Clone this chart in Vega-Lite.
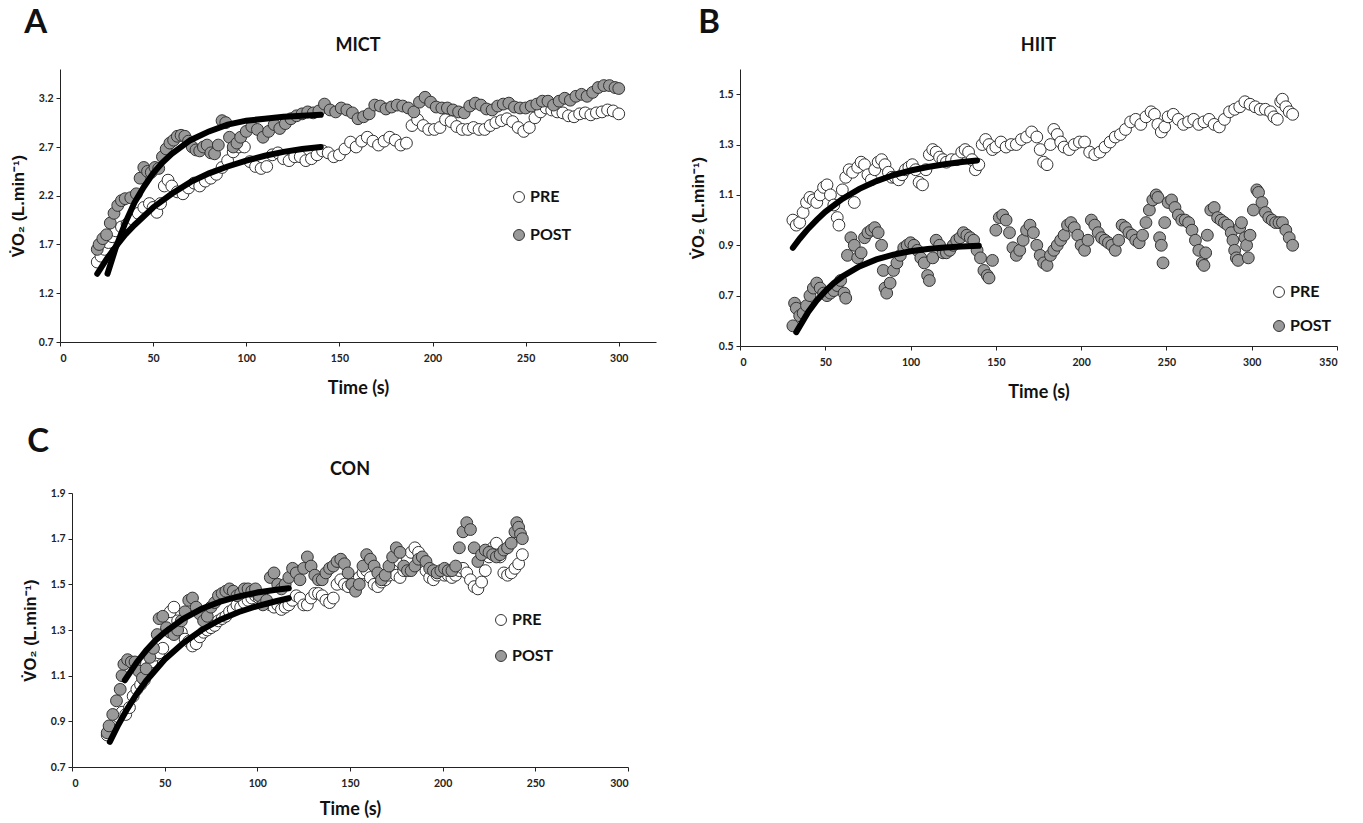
{
  "$schema": "https://vega.github.io/schema/vega-lite/v6.json",
  "background": "white",
  "padding": {"left": 10, "top": 7, "right": 5, "bottom": 5},
  "config": {
    "view": {"stroke": null},
    "font": "Lato",
    "axis": {"grid": false, "domainColor": "#222", "tickColor": "#222", "tickSize": 4, "labelFont": "Lato", "labelFontWeight": "bold", "labelFontSize": 10.5, "labelColor": "#222", "labelPadding": 3, "titleFont": "Lato", "titleFontWeight": "bold", "titleColor": "#111", "titleFontSize": 18},
    "axisY": {"titleFont": "Liberation Sans", "titleFontSize": 16.5, "titlePadding": 12},
    "axisX": {"labelPadding": 7, "titlePadding": 16},
    "legend": {"orient": "none", "labelFont": "Lato", "labelFontWeight": "bold", "labelFontSize": 16, "labelColor": "#111", "symbolType": "circle", "symbolSize": 120, "symbolStrokeColor": "#333", "symbolStrokeWidth": 1, "rowPadding": 17, "labelOffset": 3}
  },
  "datasets": {
    "mict": [
      {"t":20,"v":1.52,"g":"PRE"},{"t":22,"v":1.58,"g":"PRE"},{"t":24,"v":1.65,"g":"PRE"},{"t":26,"v":1.72,"g":"PRE"},{"t":28,"v":1.78,"g":"PRE"},{"t":30,"v":1.84,"g":"PRE"},{"t":33,"v":1.88,"g":"PRE"},{"t":36,"v":1.91,"g":"PRE"},{"t":39,"v":1.96,"g":"PRE"},{"t":42,"v":2.02,"g":"PRE"},{"t":45,"v":2.08,"g":"PRE"},{"t":48,"v":2.12,"g":"PRE"},{"t":50,"v":2.08,"g":"PRE"},{"t":52,"v":2.03,"g":"PRE"},{"t":54,"v":2.12,"g":"PRE"},{"t":56,"v":2.30,"g":"PRE"},{"t":58,"v":2.36,"g":"PRE"},{"t":60,"v":2.30,"g":"PRE"},{"t":63,"v":2.24,"g":"PRE"},{"t":66,"v":2.22,"g":"PRE"},{"t":69,"v":2.28,"g":"PRE"},{"t":72,"v":2.33,"g":"PRE"},{"t":75,"v":2.30,"g":"PRE"},{"t":78,"v":2.35,"g":"PRE"},{"t":81,"v":2.38,"g":"PRE"},{"t":84,"v":2.42,"g":"PRE"},{"t":87,"v":2.49,"g":"PRE"},{"t":90,"v":2.56,"g":"PRE"},{"t":93,"v":2.65,"g":"PRE"},{"t":96,"v":2.70,"g":"PRE"},{"t":99,"v":2.70,"g":"PRE"},{"t":102,"v":2.55,"g":"PRE"},{"t":105,"v":2.50,"g":"PRE"},{"t":108,"v":2.48,"g":"PRE"},{"t":111,"v":2.50,"g":"PRE"},{"t":114,"v":2.62,"g":"PRE"},{"t":117,"v":2.64,"g":"PRE"},{"t":120,"v":2.58,"g":"PRE"},{"t":123,"v":2.56,"g":"PRE"},{"t":126,"v":2.60,"g":"PRE"},{"t":129,"v":2.60,"g":"PRE"},{"t":132,"v":2.56,"g":"PRE"},{"t":135,"v":2.58,"g":"PRE"},{"t":138,"v":2.62,"g":"PRE"},{"t":141,"v":2.66,"g":"PRE"},{"t":144,"v":2.64,"g":"PRE"},{"t":147,"v":2.60,"g":"PRE"},{"t":150,"v":2.62,"g":"PRE"},{"t":153,"v":2.68,"g":"PRE"},{"t":156,"v":2.75,"g":"PRE"},{"t":159,"v":2.70,"g":"PRE"},{"t":162,"v":2.76,"g":"PRE"},{"t":165,"v":2.80,"g":"PRE"},{"t":168,"v":2.76,"g":"PRE"},{"t":171,"v":2.72,"g":"PRE"},{"t":174,"v":2.76,"g":"PRE"},{"t":177,"v":2.80,"g":"PRE"},{"t":180,"v":2.77,"g":"PRE"},{"t":183,"v":2.72,"g":"PRE"},{"t":186,"v":2.74,"g":"PRE"},{"t":189,"v":2.92,"g":"PRE"},{"t":192,"v":2.98,"g":"PRE"},{"t":195,"v":2.92,"g":"PRE"},{"t":198,"v":2.88,"g":"PRE"},{"t":201,"v":2.88,"g":"PRE"},{"t":204,"v":2.90,"g":"PRE"},{"t":207,"v":2.98,"g":"PRE"},{"t":210,"v":2.96,"g":"PRE"},{"t":213,"v":2.91,"g":"PRE"},{"t":216,"v":2.88,"g":"PRE"},{"t":219,"v":2.88,"g":"PRE"},{"t":222,"v":2.90,"g":"PRE"},{"t":225,"v":2.88,"g":"PRE"},{"t":228,"v":2.88,"g":"PRE"},{"t":231,"v":2.92,"g":"PRE"},{"t":234,"v":2.95,"g":"PRE"},{"t":237,"v":2.97,"g":"PRE"},{"t":240,"v":2.99,"g":"PRE"},{"t":243,"v":2.96,"g":"PRE"},{"t":246,"v":2.90,"g":"PRE"},{"t":249,"v":2.86,"g":"PRE"},{"t":252,"v":2.90,"g":"PRE"},{"t":255,"v":3.00,"g":"PRE"},{"t":258,"v":3.06,"g":"PRE"},{"t":261,"v":3.10,"g":"PRE"},{"t":264,"v":3.08,"g":"PRE"},{"t":267,"v":3.06,"g":"PRE"},{"t":270,"v":3.05,"g":"PRE"},{"t":273,"v":3.02,"g":"PRE"},{"t":276,"v":3.01,"g":"PRE"},{"t":279,"v":3.04,"g":"PRE"},{"t":282,"v":3.05,"g":"PRE"},{"t":285,"v":3.03,"g":"PRE"},{"t":288,"v":3.05,"g":"PRE"},{"t":291,"v":3.06,"g":"PRE"},{"t":294,"v":3.08,"g":"PRE"},{"t":297,"v":3.07,"g":"PRE"},{"t":300,"v":3.04,"g":"PRE"},
      {"t":20,"v":1.65,"g":"POST"},{"t":21,"v":1.70,"g":"POST"},{"t":23,"v":1.76,"g":"POST"},{"t":25,"v":1.80,"g":"POST"},{"t":27,"v":1.92,"g":"POST"},{"t":29,"v":2.02,"g":"POST"},{"t":31,"v":2.10,"g":"POST"},{"t":33,"v":2.15,"g":"POST"},{"t":35,"v":2.17,"g":"POST"},{"t":38,"v":2.18,"g":"POST"},{"t":41,"v":2.22,"g":"POST"},{"t":43,"v":2.38,"g":"POST"},{"t":45,"v":2.49,"g":"POST"},{"t":47,"v":2.45,"g":"POST"},{"t":49,"v":2.44,"g":"POST"},{"t":51,"v":2.49,"g":"POST"},{"t":53,"v":2.48,"g":"POST"},{"t":55,"v":2.60,"g":"POST"},{"t":57,"v":2.68,"g":"POST"},{"t":59,"v":2.74,"g":"POST"},{"t":61,"v":2.77,"g":"POST"},{"t":63,"v":2.81,"g":"POST"},{"t":65,"v":2.82,"g":"POST"},{"t":67,"v":2.81,"g":"POST"},{"t":69,"v":2.76,"g":"POST"},{"t":71,"v":2.70,"g":"POST"},{"t":73,"v":2.67,"g":"POST"},{"t":75,"v":2.66,"g":"POST"},{"t":77,"v":2.70,"g":"POST"},{"t":79,"v":2.72,"g":"POST"},{"t":81,"v":2.64,"g":"POST"},{"t":83,"v":2.63,"g":"POST"},{"t":85,"v":2.72,"g":"POST"},{"t":87,"v":2.97,"g":"POST"},{"t":89,"v":2.95,"g":"POST"},{"t":91,"v":2.80,"g":"POST"},{"t":93,"v":2.70,"g":"POST"},{"t":95,"v":2.74,"g":"POST"},{"t":97,"v":2.80,"g":"POST"},{"t":100,"v":2.86,"g":"POST"},{"t":103,"v":2.91,"g":"POST"},{"t":106,"v":2.88,"g":"POST"},{"t":109,"v":2.80,"g":"POST"},{"t":112,"v":2.86,"g":"POST"},{"t":115,"v":2.93,"g":"POST"},{"t":118,"v":2.89,"g":"POST"},{"t":121,"v":2.94,"g":"POST"},{"t":124,"v":2.99,"g":"POST"},{"t":127,"v":3.02,"g":"POST"},{"t":130,"v":3.04,"g":"POST"},{"t":133,"v":3.06,"g":"POST"},{"t":136,"v":3.05,"g":"POST"},{"t":139,"v":3.07,"g":"POST"},{"t":142,"v":3.14,"g":"POST"},{"t":145,"v":3.08,"g":"POST"},{"t":148,"v":3.06,"g":"POST"},{"t":151,"v":3.10,"g":"POST"},{"t":154,"v":3.08,"g":"POST"},{"t":157,"v":3.05,"g":"POST"},{"t":160,"v":2.99,"g":"POST"},{"t":163,"v":3.01,"g":"POST"},{"t":166,"v":3.04,"g":"POST"},{"t":169,"v":3.13,"g":"POST"},{"t":172,"v":3.12,"g":"POST"},{"t":175,"v":3.09,"g":"POST"},{"t":178,"v":3.11,"g":"POST"},{"t":181,"v":3.13,"g":"POST"},{"t":184,"v":3.12,"g":"POST"},{"t":187,"v":3.10,"g":"POST"},{"t":190,"v":3.06,"g":"POST"},{"t":193,"v":3.16,"g":"POST"},{"t":196,"v":3.21,"g":"POST"},{"t":199,"v":3.16,"g":"POST"},{"t":202,"v":3.11,"g":"POST"},{"t":205,"v":3.10,"g":"POST"},{"t":208,"v":3.10,"g":"POST"},{"t":211,"v":3.08,"g":"POST"},{"t":214,"v":3.06,"g":"POST"},{"t":217,"v":3.05,"g":"POST"},{"t":220,"v":3.12,"g":"POST"},{"t":223,"v":3.15,"g":"POST"},{"t":226,"v":3.13,"g":"POST"},{"t":229,"v":3.09,"g":"POST"},{"t":232,"v":3.08,"g":"POST"},{"t":235,"v":3.12,"g":"POST"},{"t":238,"v":3.14,"g":"POST"},{"t":241,"v":3.15,"g":"POST"},{"t":244,"v":3.11,"g":"POST"},{"t":247,"v":3.10,"g":"POST"},{"t":250,"v":3.10,"g":"POST"},{"t":253,"v":3.12,"g":"POST"},{"t":256,"v":3.14,"g":"POST"},{"t":259,"v":3.17,"g":"POST"},{"t":262,"v":3.17,"g":"POST"},{"t":265,"v":3.13,"g":"POST"},{"t":268,"v":3.17,"g":"POST"},{"t":271,"v":3.20,"g":"POST"},{"t":274,"v":3.18,"g":"POST"},{"t":277,"v":3.22,"g":"POST"},{"t":280,"v":3.24,"g":"POST"},{"t":283,"v":3.22,"g":"POST"},{"t":286,"v":3.26,"g":"POST"},{"t":289,"v":3.31,"g":"POST"},{"t":292,"v":3.33,"g":"POST"},{"t":295,"v":3.33,"g":"POST"},{"t":298,"v":3.31,"g":"POST"},{"t":300,"v":3.30,"g":"POST"}
    ],
    "mictFit": [
      {"t":20,"v":1.40,"g":"PRE"},{"t":25,"v":1.55,"g":"PRE"},{"t":30,"v":1.68,"g":"PRE"},{"t":35,"v":1.80,"g":"PRE"},{"t":40,"v":1.90,"g":"PRE"},{"t":50,"v":2.08,"g":"PRE"},{"t":60,"v":2.22,"g":"PRE"},{"t":70,"v":2.34,"g":"PRE"},{"t":80,"v":2.43,"g":"PRE"},{"t":90,"v":2.50,"g":"PRE"},{"t":100,"v":2.56,"g":"PRE"},{"t":110,"v":2.61,"g":"PRE"},{"t":120,"v":2.65,"g":"PRE"},{"t":130,"v":2.68,"g":"PRE"},{"t":140,"v":2.70,"g":"PRE"},
      {"t":25.5,"v":1.40,"g":"POST"},{"t":30,"v":1.67,"g":"POST"},{"t":35,"v":1.92,"g":"POST"},{"t":40,"v":2.13,"g":"POST"},{"t":45,"v":2.29,"g":"POST"},{"t":50,"v":2.43,"g":"POST"},{"t":55,"v":2.54,"g":"POST"},{"t":60,"v":2.63,"g":"POST"},{"t":70,"v":2.77,"g":"POST"},{"t":80,"v":2.86,"g":"POST"},{"t":90,"v":2.93,"g":"POST"},{"t":100,"v":2.97,"g":"POST"},{"t":110,"v":2.99,"g":"POST"},{"t":120,"v":3.01,"g":"POST"},{"t":130,"v":3.02,"g":"POST"},{"t":140,"v":3.03,"g":"POST"}
    ],
    "hiit": [
      {"t":31,"v":1.00,"g":"PRE"},{"t":33,"v":0.98,"g":"PRE"},{"t":35,"v":0.99,"g":"PRE"},{"t":37,"v":1.03,"g":"PRE"},{"t":39,"v":1.07,"g":"PRE"},{"t":41,"v":1.09,"g":"PRE"},{"t":43,"v":1.08,"g":"PRE"},{"t":45,"v":1.07,"g":"PRE"},{"t":47,"v":1.10,"g":"PRE"},{"t":49,"v":1.13,"g":"PRE"},{"t":51,"v":1.14,"g":"PRE"},{"t":53,"v":1.10,"g":"PRE"},{"t":55,"v":1.06,"g":"PRE"},{"t":57,"v":1.01,"g":"PRE"},{"t":58,"v":0.98,"g":"PRE"},{"t":60,"v":1.12,"g":"PRE"},{"t":62,"v":1.17,"g":"PRE"},{"t":64,"v":1.20,"g":"PRE"},{"t":66,"v":1.19,"g":"PRE"},{"t":67,"v":1.07,"g":"PRE"},{"t":69,"v":1.21,"g":"PRE"},{"t":71,"v":1.23,"g":"PRE"},{"t":73,"v":1.22,"g":"PRE"},{"t":75,"v":1.18,"g":"PRE"},{"t":77,"v":1.16,"g":"PRE"},{"t":79,"v":1.20,"g":"PRE"},{"t":81,"v":1.23,"g":"PRE"},{"t":83,"v":1.24,"g":"PRE"},{"t":85,"v":1.22,"g":"PRE"},{"t":87,"v":1.19,"g":"PRE"},{"t":89,"v":1.17,"g":"PRE"},{"t":91,"v":1.17,"g":"PRE"},{"t":93,"v":1.16,"g":"PRE"},{"t":95,"v":1.18,"g":"PRE"},{"t":97,"v":1.20,"g":"PRE"},{"t":99,"v":1.21,"g":"PRE"},{"t":101,"v":1.22,"g":"PRE"},{"t":103,"v":1.20,"g":"PRE"},{"t":105,"v":1.15,"g":"PRE"},{"t":107,"v":1.14,"g":"PRE"},{"t":109,"v":1.20,"g":"PRE"},{"t":111,"v":1.26,"g":"PRE"},{"t":113,"v":1.28,"g":"PRE"},{"t":115,"v":1.27,"g":"PRE"},{"t":117,"v":1.25,"g":"PRE"},{"t":119,"v":1.24,"g":"PRE"},{"t":121,"v":1.23,"g":"PRE"},{"t":124,"v":1.24,"g":"PRE"},{"t":127,"v":1.24,"g":"PRE"},{"t":130,"v":1.27,"g":"PRE"},{"t":132,"v":1.28,"g":"PRE"},{"t":134,"v":1.27,"g":"PRE"},{"t":136,"v":1.24,"g":"PRE"},{"t":138,"v":1.20,"g":"PRE"},{"t":140,"v":1.22,"g":"PRE"},{"t":142,"v":1.30,"g":"PRE"},{"t":144,"v":1.32,"g":"PRE"},{"t":146,"v":1.30,"g":"PRE"},{"t":148,"v":1.28,"g":"PRE"},{"t":150,"v":1.29,"g":"PRE"},{"t":153,"v":1.31,"g":"PRE"},{"t":156,"v":1.29,"g":"PRE"},{"t":159,"v":1.30,"g":"PRE"},{"t":162,"v":1.30,"g":"PRE"},{"t":165,"v":1.32,"g":"PRE"},{"t":168,"v":1.33,"g":"PRE"},{"t":171,"v":1.35,"g":"PRE"},{"t":174,"v":1.33,"g":"PRE"},{"t":176,"v":1.28,"g":"PRE"},{"t":178,"v":1.23,"g":"PRE"},{"t":180,"v":1.22,"g":"PRE"},{"t":182,"v":1.30,"g":"PRE"},{"t":184,"v":1.36,"g":"PRE"},{"t":186,"v":1.34,"g":"PRE"},{"t":188,"v":1.31,"g":"PRE"},{"t":190,"v":1.29,"g":"PRE"},{"t":193,"v":1.28,"g":"PRE"},{"t":196,"v":1.30,"g":"PRE"},{"t":199,"v":1.31,"g":"PRE"},{"t":202,"v":1.31,"g":"PRE"},{"t":205,"v":1.27,"g":"PRE"},{"t":208,"v":1.26,"g":"PRE"},{"t":211,"v":1.27,"g":"PRE"},{"t":214,"v":1.29,"g":"PRE"},{"t":217,"v":1.31,"g":"PRE"},{"t":220,"v":1.33,"g":"PRE"},{"t":223,"v":1.34,"g":"PRE"},{"t":226,"v":1.36,"g":"PRE"},{"t":229,"v":1.39,"g":"PRE"},{"t":232,"v":1.40,"g":"PRE"},{"t":235,"v":1.38,"g":"PRE"},{"t":238,"v":1.41,"g":"PRE"},{"t":241,"v":1.43,"g":"PRE"},{"t":243,"v":1.42,"g":"PRE"},{"t":245,"v":1.38,"g":"PRE"},{"t":247,"v":1.35,"g":"PRE"},{"t":249,"v":1.37,"g":"PRE"},{"t":251,"v":1.41,"g":"PRE"},{"t":254,"v":1.42,"g":"PRE"},{"t":257,"v":1.40,"g":"PRE"},{"t":260,"v":1.38,"g":"PRE"},{"t":263,"v":1.39,"g":"PRE"},{"t":266,"v":1.40,"g":"PRE"},{"t":269,"v":1.38,"g":"PRE"},{"t":272,"v":1.39,"g":"PRE"},{"t":275,"v":1.40,"g":"PRE"},{"t":278,"v":1.38,"g":"PRE"},{"t":281,"v":1.37,"g":"PRE"},{"t":284,"v":1.40,"g":"PRE"},{"t":287,"v":1.43,"g":"PRE"},{"t":290,"v":1.44,"g":"PRE"},{"t":293,"v":1.45,"g":"PRE"},{"t":296,"v":1.47,"g":"PRE"},{"t":299,"v":1.46,"g":"PRE"},{"t":302,"v":1.45,"g":"PRE"},{"t":305,"v":1.44,"g":"PRE"},{"t":308,"v":1.44,"g":"PRE"},{"t":311,"v":1.43,"g":"PRE"},{"t":313,"v":1.41,"g":"PRE"},{"t":315,"v":1.40,"g":"PRE"},{"t":317,"v":1.47,"g":"PRE"},{"t":318,"v":1.48,"g":"PRE"},{"t":320,"v":1.45,"g":"PRE"},{"t":322,"v":1.43,"g":"PRE"},{"t":324,"v":1.42,"g":"PRE"},
      {"t":31,"v":0.58,"g":"POST"},{"t":32,"v":0.67,"g":"POST"},{"t":33,"v":0.65,"g":"POST"},{"t":35,"v":0.62,"g":"POST"},{"t":37,"v":0.63,"g":"POST"},{"t":39,"v":0.66,"g":"POST"},{"t":41,"v":0.70,"g":"POST"},{"t":43,"v":0.73,"g":"POST"},{"t":45,"v":0.75,"g":"POST"},{"t":47,"v":0.73,"g":"POST"},{"t":49,"v":0.71,"g":"POST"},{"t":51,"v":0.70,"g":"POST"},{"t":53,"v":0.71,"g":"POST"},{"t":55,"v":0.72,"g":"POST"},{"t":57,"v":0.74,"g":"POST"},{"t":59,"v":0.76,"g":"POST"},{"t":61,"v":0.71,"g":"POST"},{"t":62,"v":0.69,"g":"POST"},{"t":63,"v":0.86,"g":"POST"},{"t":65,"v":0.93,"g":"POST"},{"t":67,"v":0.90,"g":"POST"},{"t":69,"v":0.85,"g":"POST"},{"t":71,"v":0.87,"g":"POST"},{"t":73,"v":0.93,"g":"POST"},{"t":75,"v":0.95,"g":"POST"},{"t":77,"v":0.96,"g":"POST"},{"t":79,"v":0.97,"g":"POST"},{"t":81,"v":0.95,"g":"POST"},{"t":83,"v":0.90,"g":"POST"},{"t":84,"v":0.80,"g":"POST"},{"t":85,"v":0.73,"g":"POST"},{"t":86,"v":0.71,"g":"POST"},{"t":88,"v":0.75,"g":"POST"},{"t":90,"v":0.80,"g":"POST"},{"t":92,"v":0.83,"g":"POST"},{"t":94,"v":0.86,"g":"POST"},{"t":96,"v":0.89,"g":"POST"},{"t":98,"v":0.90,"g":"POST"},{"t":100,"v":0.91,"g":"POST"},{"t":102,"v":0.90,"g":"POST"},{"t":104,"v":0.88,"g":"POST"},{"t":106,"v":0.85,"g":"POST"},{"t":108,"v":0.83,"g":"POST"},{"t":110,"v":0.78,"g":"POST"},{"t":111,"v":0.76,"g":"POST"},{"t":113,"v":0.85,"g":"POST"},{"t":115,"v":0.92,"g":"POST"},{"t":117,"v":0.90,"g":"POST"},{"t":119,"v":0.87,"g":"POST"},{"t":121,"v":0.87,"g":"POST"},{"t":123,"v":0.88,"g":"POST"},{"t":125,"v":0.90,"g":"POST"},{"t":127,"v":0.92,"g":"POST"},{"t":129,"v":0.93,"g":"POST"},{"t":131,"v":0.95,"g":"POST"},{"t":133,"v":0.94,"g":"POST"},{"t":135,"v":0.93,"g":"POST"},{"t":137,"v":0.92,"g":"POST"},{"t":139,"v":0.88,"g":"POST"},{"t":141,"v":0.85,"g":"POST"},{"t":143,"v":0.80,"g":"POST"},{"t":145,"v":0.78,"g":"POST"},{"t":146,"v":0.77,"g":"POST"},{"t":148,"v":0.84,"g":"POST"},{"t":150,"v":0.96,"g":"POST"},{"t":152,"v":1.01,"g":"POST"},{"t":154,"v":1.02,"g":"POST"},{"t":156,"v":1.00,"g":"POST"},{"t":158,"v":0.95,"g":"POST"},{"t":160,"v":0.89,"g":"POST"},{"t":162,"v":0.86,"g":"POST"},{"t":164,"v":0.88,"g":"POST"},{"t":166,"v":0.92,"g":"POST"},{"t":168,"v":0.96,"g":"POST"},{"t":170,"v":0.98,"g":"POST"},{"t":172,"v":0.95,"g":"POST"},{"t":174,"v":0.90,"g":"POST"},{"t":176,"v":0.86,"g":"POST"},{"t":178,"v":0.83,"g":"POST"},{"t":180,"v":0.82,"g":"POST"},{"t":182,"v":0.86,"g":"POST"},{"t":184,"v":0.88,"g":"POST"},{"t":186,"v":0.90,"g":"POST"},{"t":188,"v":0.92,"g":"POST"},{"t":190,"v":0.94,"g":"POST"},{"t":192,"v":0.98,"g":"POST"},{"t":194,"v":0.99,"g":"POST"},{"t":196,"v":0.97,"g":"POST"},{"t":198,"v":0.94,"g":"POST"},{"t":200,"v":0.90,"g":"POST"},{"t":202,"v":0.88,"g":"POST"},{"t":204,"v":0.92,"g":"POST"},{"t":206,"v":1.00,"g":"POST"},{"t":208,"v":0.98,"g":"POST"},{"t":210,"v":0.95,"g":"POST"},{"t":212,"v":0.93,"g":"POST"},{"t":214,"v":0.92,"g":"POST"},{"t":216,"v":0.91,"g":"POST"},{"t":218,"v":0.90,"g":"POST"},{"t":220,"v":0.88,"g":"POST"},{"t":222,"v":0.92,"g":"POST"},{"t":224,"v":0.98,"g":"POST"},{"t":226,"v":0.97,"g":"POST"},{"t":228,"v":0.95,"g":"POST"},{"t":230,"v":0.94,"g":"POST"},{"t":232,"v":0.92,"g":"POST"},{"t":234,"v":0.91,"g":"POST"},{"t":236,"v":0.94,"g":"POST"},{"t":238,"v":0.99,"g":"POST"},{"t":240,"v":1.04,"g":"POST"},{"t":242,"v":1.08,"g":"POST"},{"t":244,"v":1.10,"g":"POST"},{"t":245,"v":1.09,"g":"POST"},{"t":246,"v":0.93,"g":"POST"},{"t":247,"v":0.90,"g":"POST"},{"t":248,"v":0.83,"g":"POST"},{"t":249,"v":0.99,"g":"POST"},{"t":251,"v":1.07,"g":"POST"},{"t":253,"v":1.08,"g":"POST"},{"t":255,"v":1.05,"g":"POST"},{"t":257,"v":1.02,"g":"POST"},{"t":259,"v":1.00,"g":"POST"},{"t":261,"v":1.00,"g":"POST"},{"t":263,"v":0.99,"g":"POST"},{"t":265,"v":0.96,"g":"POST"},{"t":267,"v":0.92,"g":"POST"},{"t":269,"v":0.88,"g":"POST"},{"t":271,"v":0.83,"g":"POST"},{"t":272,"v":0.82,"g":"POST"},{"t":273,"v":0.87,"g":"POST"},{"t":274,"v":0.94,"g":"POST"},{"t":276,"v":1.04,"g":"POST"},{"t":278,"v":1.05,"g":"POST"},{"t":280,"v":1.01,"g":"POST"},{"t":282,"v":1.00,"g":"POST"},{"t":284,"v":0.99,"g":"POST"},{"t":286,"v":0.98,"g":"POST"},{"t":288,"v":0.95,"g":"POST"},{"t":289,"v":0.92,"g":"POST"},{"t":290,"v":0.88,"g":"POST"},{"t":291,"v":0.85,"g":"POST"},{"t":292,"v":0.84,"g":"POST"},{"t":293,"v":0.97,"g":"POST"},{"t":294,"v":0.99,"g":"POST"},{"t":296,"v":0.93,"g":"POST"},{"t":297,"v":0.90,"g":"POST"},{"t":298,"v":0.85,"g":"POST"},{"t":299,"v":0.94,"g":"POST"},{"t":301,"v":1.04,"g":"POST"},{"t":303,"v":1.12,"g":"POST"},{"t":304,"v":1.11,"g":"POST"},{"t":306,"v":1.07,"g":"POST"},{"t":308,"v":1.03,"g":"POST"},{"t":310,"v":1.01,"g":"POST"},{"t":312,"v":1.00,"g":"POST"},{"t":314,"v":0.99,"g":"POST"},{"t":316,"v":0.99,"g":"POST"},{"t":318,"v":0.99,"g":"POST"},{"t":320,"v":0.96,"g":"POST"},{"t":322,"v":0.93,"g":"POST"},{"t":324,"v":0.90,"g":"POST"}
    ],
    "hiitFit": [
      {"t":31,"v":0.89,"g":"PRE"},{"t":35,"v":0.926,"g":"PRE"},{"t":40,"v":0.966,"g":"PRE"},{"t":45,"v":1.001,"g":"PRE"},{"t":50,"v":1.033,"g":"PRE"},{"t":60,"v":1.084,"g":"PRE"},{"t":70,"v":1.124,"g":"PRE"},{"t":80,"v":1.155,"g":"PRE"},{"t":90,"v":1.179,"g":"PRE"},{"t":100,"v":1.197,"g":"PRE"},{"t":110,"v":1.211,"g":"PRE"},{"t":120,"v":1.222,"g":"PRE"},{"t":130,"v":1.231,"g":"PRE"},{"t":139,"v":1.237,"g":"PRE"},
      {"t":33,"v":0.555,"g":"POST"},{"t":40,"v":0.635,"g":"POST"},{"t":45,"v":0.681,"g":"POST"},{"t":50,"v":0.718,"g":"POST"},{"t":55,"v":0.750,"g":"POST"},{"t":60,"v":0.776,"g":"POST"},{"t":70,"v":0.816,"g":"POST"},{"t":80,"v":0.844,"g":"POST"},{"t":90,"v":0.863,"g":"POST"},{"t":100,"v":0.876,"g":"POST"},{"t":110,"v":0.885,"g":"POST"},{"t":120,"v":0.891,"g":"POST"},{"t":130,"v":0.895,"g":"POST"},{"t":140,"v":0.898,"g":"POST"}
    ],
    "con": [
      {"t":19,"v":0.84,"g":"PRE"},{"t":21,"v":0.86,"g":"PRE"},{"t":23,"v":0.89,"g":"PRE"},{"t":25,"v":0.92,"g":"PRE"},{"t":27,"v":0.94,"g":"PRE"},{"t":29,"v":0.93,"g":"PRE"},{"t":31,"v":0.96,"g":"PRE"},{"t":33,"v":1.01,"g":"PRE"},{"t":35,"v":1.04,"g":"PRE"},{"t":37,"v":1.06,"g":"PRE"},{"t":39,"v":1.08,"g":"PRE"},{"t":41,"v":1.12,"g":"PRE"},{"t":43,"v":1.16,"g":"PRE"},{"t":45,"v":1.19,"g":"PRE"},{"t":47,"v":1.20,"g":"PRE"},{"t":49,"v":1.22,"g":"PRE"},{"t":51,"v":1.30,"g":"PRE"},{"t":53,"v":1.38,"g":"PRE"},{"t":55,"v":1.40,"g":"PRE"},{"t":57,"v":1.34,"g":"PRE"},{"t":59,"v":1.29,"g":"PRE"},{"t":61,"v":1.26,"g":"PRE"},{"t":63,"v":1.25,"g":"PRE"},{"t":65,"v":1.23,"g":"PRE"},{"t":67,"v":1.24,"g":"PRE"},{"t":69,"v":1.27,"g":"PRE"},{"t":71,"v":1.29,"g":"PRE"},{"t":73,"v":1.30,"g":"PRE"},{"t":75,"v":1.31,"g":"PRE"},{"t":77,"v":1.32,"g":"PRE"},{"t":79,"v":1.34,"g":"PRE"},{"t":81,"v":1.35,"g":"PRE"},{"t":83,"v":1.36,"g":"PRE"},{"t":85,"v":1.38,"g":"PRE"},{"t":87,"v":1.39,"g":"PRE"},{"t":89,"v":1.41,"g":"PRE"},{"t":91,"v":1.40,"g":"PRE"},{"t":93,"v":1.42,"g":"PRE"},{"t":95,"v":1.43,"g":"PRE"},{"t":97,"v":1.44,"g":"PRE"},{"t":99,"v":1.45,"g":"PRE"},{"t":101,"v":1.44,"g":"PRE"},{"t":103,"v":1.42,"g":"PRE"},{"t":105,"v":1.42,"g":"PRE"},{"t":107,"v":1.41,"g":"PRE"},{"t":109,"v":1.40,"g":"PRE"},{"t":111,"v":1.41,"g":"PRE"},{"t":113,"v":1.39,"g":"PRE"},{"t":115,"v":1.40,"g":"PRE"},{"t":117,"v":1.41,"g":"PRE"},{"t":119,"v":1.43,"g":"PRE"},{"t":121,"v":1.45,"g":"PRE"},{"t":123,"v":1.44,"g":"PRE"},{"t":125,"v":1.41,"g":"PRE"},{"t":127,"v":1.41,"g":"PRE"},{"t":129,"v":1.44,"g":"PRE"},{"t":131,"v":1.46,"g":"PRE"},{"t":133,"v":1.46,"g":"PRE"},{"t":135,"v":1.45,"g":"PRE"},{"t":137,"v":1.43,"g":"PRE"},{"t":139,"v":1.42,"g":"PRE"},{"t":141,"v":1.44,"g":"PRE"},{"t":143,"v":1.50,"g":"PRE"},{"t":145,"v":1.52,"g":"PRE"},{"t":147,"v":1.50,"g":"PRE"},{"t":149,"v":1.49,"g":"PRE"},{"t":151,"v":1.50,"g":"PRE"},{"t":153,"v":1.52,"g":"PRE"},{"t":155,"v":1.53,"g":"PRE"},{"t":157,"v":1.55,"g":"PRE"},{"t":159,"v":1.56,"g":"PRE"},{"t":161,"v":1.53,"g":"PRE"},{"t":163,"v":1.50,"g":"PRE"},{"t":165,"v":1.49,"g":"PRE"},{"t":167,"v":1.51,"g":"PRE"},{"t":169,"v":1.52,"g":"PRE"},{"t":171,"v":1.54,"g":"PRE"},{"t":173,"v":1.56,"g":"PRE"},{"t":175,"v":1.54,"g":"PRE"},{"t":177,"v":1.53,"g":"PRE"},{"t":179,"v":1.56,"g":"PRE"},{"t":181,"v":1.61,"g":"PRE"},{"t":183,"v":1.64,"g":"PRE"},{"t":185,"v":1.66,"g":"PRE"},{"t":187,"v":1.64,"g":"PRE"},{"t":189,"v":1.60,"g":"PRE"},{"t":191,"v":1.56,"g":"PRE"},{"t":193,"v":1.53,"g":"PRE"},{"t":195,"v":1.52,"g":"PRE"},{"t":197,"v":1.54,"g":"PRE"},{"t":199,"v":1.55,"g":"PRE"},{"t":201,"v":1.54,"g":"PRE"},{"t":203,"v":1.54,"g":"PRE"},{"t":205,"v":1.53,"g":"PRE"},{"t":207,"v":1.54,"g":"PRE"},{"t":209,"v":1.56,"g":"PRE"},{"t":211,"v":1.57,"g":"PRE"},{"t":213,"v":1.55,"g":"PRE"},{"t":215,"v":1.52,"g":"PRE"},{"t":217,"v":1.49,"g":"PRE"},{"t":219,"v":1.48,"g":"PRE"},{"t":221,"v":1.51,"g":"PRE"},{"t":223,"v":1.56,"g":"PRE"},{"t":225,"v":1.62,"g":"PRE"},{"t":227,"v":1.66,"g":"PRE"},{"t":229,"v":1.68,"g":"PRE"},{"t":231,"v":1.62,"g":"PRE"},{"t":233,"v":1.55,"g":"PRE"},{"t":235,"v":1.54,"g":"PRE"},{"t":237,"v":1.55,"g":"PRE"},{"t":239,"v":1.57,"g":"PRE"},{"t":241,"v":1.59,"g":"PRE"},{"t":243,"v":1.63,"g":"PRE"},
      {"t":19,"v":0.85,"g":"POST"},{"t":20,"v":0.88,"g":"POST"},{"t":22,"v":0.93,"g":"POST"},{"t":24,"v":0.99,"g":"POST"},{"t":26,"v":1.04,"g":"POST"},{"t":27,"v":1.10,"g":"POST"},{"t":28,"v":1.15,"g":"POST"},{"t":30,"v":1.17,"g":"POST"},{"t":32,"v":1.16,"g":"POST"},{"t":34,"v":1.16,"g":"POST"},{"t":36,"v":1.12,"g":"POST"},{"t":38,"v":1.09,"g":"POST"},{"t":40,"v":1.13,"g":"POST"},{"t":42,"v":1.18,"g":"POST"},{"t":44,"v":1.22,"g":"POST"},{"t":46,"v":1.28,"g":"POST"},{"t":47,"v":1.35,"g":"POST"},{"t":49,"v":1.36,"g":"POST"},{"t":51,"v":1.31,"g":"POST"},{"t":53,"v":1.29,"g":"POST"},{"t":55,"v":1.28,"g":"POST"},{"t":57,"v":1.30,"g":"POST"},{"t":59,"v":1.34,"g":"POST"},{"t":61,"v":1.38,"g":"POST"},{"t":63,"v":1.43,"g":"POST"},{"t":65,"v":1.44,"g":"POST"},{"t":67,"v":1.40,"g":"POST"},{"t":69,"v":1.37,"g":"POST"},{"t":71,"v":1.34,"g":"POST"},{"t":73,"v":1.36,"g":"POST"},{"t":75,"v":1.40,"g":"POST"},{"t":77,"v":1.42,"g":"POST"},{"t":79,"v":1.45,"g":"POST"},{"t":81,"v":1.46,"g":"POST"},{"t":83,"v":1.47,"g":"POST"},{"t":85,"v":1.48,"g":"POST"},{"t":87,"v":1.47,"g":"POST"},{"t":89,"v":1.45,"g":"POST"},{"t":91,"v":1.46,"g":"POST"},{"t":93,"v":1.48,"g":"POST"},{"t":95,"v":1.48,"g":"POST"},{"t":97,"v":1.47,"g":"POST"},{"t":99,"v":1.48,"g":"POST"},{"t":101,"v":1.45,"g":"POST"},{"t":103,"v":1.41,"g":"POST"},{"t":105,"v":1.43,"g":"POST"},{"t":107,"v":1.53,"g":"POST"},{"t":109,"v":1.55,"g":"POST"},{"t":111,"v":1.50,"g":"POST"},{"t":113,"v":1.48,"g":"POST"},{"t":115,"v":1.50,"g":"POST"},{"t":117,"v":1.53,"g":"POST"},{"t":119,"v":1.57,"g":"POST"},{"t":121,"v":1.55,"g":"POST"},{"t":123,"v":1.52,"g":"POST"},{"t":125,"v":1.57,"g":"POST"},{"t":127,"v":1.62,"g":"POST"},{"t":129,"v":1.58,"g":"POST"},{"t":131,"v":1.54,"g":"POST"},{"t":133,"v":1.52,"g":"POST"},{"t":135,"v":1.52,"g":"POST"},{"t":137,"v":1.55,"g":"POST"},{"t":139,"v":1.57,"g":"POST"},{"t":141,"v":1.58,"g":"POST"},{"t":143,"v":1.60,"g":"POST"},{"t":145,"v":1.61,"g":"POST"},{"t":147,"v":1.59,"g":"POST"},{"t":149,"v":1.55,"g":"POST"},{"t":151,"v":1.50,"g":"POST"},{"t":153,"v":1.47,"g":"POST"},{"t":155,"v":1.50,"g":"POST"},{"t":157,"v":1.58,"g":"POST"},{"t":159,"v":1.63,"g":"POST"},{"t":161,"v":1.61,"g":"POST"},{"t":163,"v":1.58,"g":"POST"},{"t":165,"v":1.55,"g":"POST"},{"t":167,"v":1.52,"g":"POST"},{"t":169,"v":1.54,"g":"POST"},{"t":171,"v":1.58,"g":"POST"},{"t":173,"v":1.62,"g":"POST"},{"t":175,"v":1.66,"g":"POST"},{"t":177,"v":1.64,"g":"POST"},{"t":179,"v":1.58,"g":"POST"},{"t":181,"v":1.56,"g":"POST"},{"t":183,"v":1.56,"g":"POST"},{"t":185,"v":1.58,"g":"POST"},{"t":187,"v":1.61,"g":"POST"},{"t":189,"v":1.62,"g":"POST"},{"t":191,"v":1.60,"g":"POST"},{"t":193,"v":1.57,"g":"POST"},{"t":195,"v":1.56,"g":"POST"},{"t":197,"v":1.55,"g":"POST"},{"t":199,"v":1.56,"g":"POST"},{"t":201,"v":1.57,"g":"POST"},{"t":203,"v":1.56,"g":"POST"},{"t":205,"v":1.56,"g":"POST"},{"t":207,"v":1.58,"g":"POST"},{"t":209,"v":1.66,"g":"POST"},{"t":211,"v":1.73,"g":"POST"},{"t":213,"v":1.77,"g":"POST"},{"t":215,"v":1.74,"g":"POST"},{"t":217,"v":1.66,"g":"POST"},{"t":219,"v":1.60,"g":"POST"},{"t":221,"v":1.63,"g":"POST"},{"t":223,"v":1.65,"g":"POST"},{"t":225,"v":1.64,"g":"POST"},{"t":227,"v":1.63,"g":"POST"},{"t":229,"v":1.62,"g":"POST"},{"t":231,"v":1.63,"g":"POST"},{"t":233,"v":1.65,"g":"POST"},{"t":235,"v":1.66,"g":"POST"},{"t":237,"v":1.68,"g":"POST"},{"t":239,"v":1.73,"g":"POST"},{"t":240,"v":1.77,"g":"POST"},{"t":241,"v":1.75,"g":"POST"},{"t":242,"v":1.72,"g":"POST"},{"t":243,"v":1.70,"g":"POST"}
    ],
    "conFit": [
      {"t":20.4,"v":0.81,"g":"PRE"},{"t":25,"v":0.885,"g":"PRE"},{"t":30,"v":0.957,"g":"PRE"},{"t":35,"v":1.021,"g":"PRE"},{"t":40,"v":1.077,"g":"PRE"},{"t":50,"v":1.171,"g":"PRE"},{"t":60,"v":1.243,"g":"PRE"},{"t":70,"v":1.30,"g":"PRE"},{"t":80,"v":1.345,"g":"PRE"},{"t":90,"v":1.379,"g":"PRE"},{"t":100,"v":1.405,"g":"PRE"},{"t":110,"v":1.426,"g":"PRE"},{"t":117,"v":1.439,"g":"PRE"},
      {"t":28.5,"v":1.08,"g":"POST"},{"t":35,"v":1.159,"g":"POST"},{"t":40,"v":1.21,"g":"POST"},{"t":45,"v":1.254,"g":"POST"},{"t":50,"v":1.29,"g":"POST"},{"t":60,"v":1.349,"g":"POST"},{"t":70,"v":1.393,"g":"POST"},{"t":80,"v":1.424,"g":"POST"},{"t":90,"v":1.447,"g":"POST"},{"t":100,"v":1.464,"g":"POST"},{"t":110,"v":1.476,"g":"POST"},{"t":117,"v":1.483,"g":"POST"}
    ]
  },
  "resolve": {"scale": {"fill": "independent"}, "legend": {"fill": "independent"}},
  "spacing": 24,
  "vconcat": [
    {
      "hconcat": [
        {
          "title": {"text": "A", "anchor": "start", "fontSize": 33, "fontWeight": "bold", "font": "Lato", "color": "#111", "offset": -3, "dx": 14},
          "resolve": {"scale": {"fill": "independent"}, "legend": {"fill": "independent"}},
          "vconcat": [
            {
              "title": {"text": "MICT", "anchor": "middle", "fontSize": 18, "fontWeight": "bold", "font": "Lato", "color": "#111", "offset": 14},
              "width": 596, "height": 273,
              "layer": [
                {
                  "data": {"name": "mict"},
                  "mark": {"type": "point", "filled": true, "size": 140, "stroke": "#333", "strokeWidth": 1, "opacity": 1},
                  "encoding": {
                    "x": {"field": "t", "type": "quantitative", "scale": {"domain": [0, 320], "nice": false}, "axis": {"values": [0,50,100,150,200,250,300], "title": "Time (s)"}},
                    "y": {"field": "v", "type": "quantitative", "scale": {"domain": [0.7, 3.5], "nice": false, "zero": false}, "axis": {"values": [0.7,1.2,1.7,2.2,2.7,3.2], "format": ".1f", "title": "V̇O₂ (L.min⁻¹)"}},
                    "fill": {"field": "g", "type": "nominal", "scale": {"domain": ["PRE", "POST"], "range": ["#ffffff", "#999999"]}, "legend": {"title": null, "legendX": 451, "legendY": 120, "rowPadding": 22}}
                  }
                },
                {
                  "data": {"name": "mictFit"},
                  "mark": {"type": "line", "color": "#000", "strokeWidth": 6, "strokeCap": "round"},
                  "encoding": {"x": {"field": "t", "type": "quantitative"}, "y": {"field": "v", "type": "quantitative"}, "detail": {"field": "g"}}
                }
              ]
            }
          ]
        },
        {
          "title": {"text": "B", "anchor": "start", "fontSize": 33, "fontWeight": "bold", "font": "Lato", "color": "#111", "offset": -3, "dx": 8},
          "resolve": {"scale": {"fill": "independent"}, "legend": {"fill": "independent"}},
          "vconcat": [
            {
              "title": {"text": "HIIT", "anchor": "middle", "fontSize": 18, "fontWeight": "bold", "font": "Lato", "color": "#111", "offset": 14},
              "width": 597, "height": 277,
              "layer": [
                {
                  "data": {"name": "hiit"},
                  "mark": {"type": "point", "filled": true, "size": 140, "stroke": "#333", "strokeWidth": 1, "opacity": 1},
                  "encoding": {
                    "x": {"field": "t", "type": "quantitative", "scale": {"domain": [0, 350], "nice": false}, "axis": {"values": [0,50,100,150,200,250,300,350], "title": "Time (s)"}},
                    "y": {"field": "v", "type": "quantitative", "scale": {"domain": [0.5, 1.6], "nice": false, "zero": false}, "axis": {"values": [0.5,0.7,0.9,1.1,1.3,1.5], "format": ".1f", "title": "V̇O₂ (L.min⁻¹)"}},
                    "fill": {"field": "g", "type": "nominal", "scale": {"domain": ["PRE", "POST"], "range": ["#ffffff", "#999999"]}, "legend": {"title": null, "legendX": 531, "legendY": 215, "rowPadding": 18}}
                  }
                },
                {
                  "data": {"name": "hiitFit"},
                  "mark": {"type": "line", "color": "#000", "strokeWidth": 6, "strokeCap": "round"},
                  "encoding": {"x": {"field": "t", "type": "quantitative"}, "y": {"field": "v", "type": "quantitative"}, "detail": {"field": "g"}}
                }
              ]
            }
          ]
        }
      ],
      "spacing": 34,
      "resolve": {"scale": {"fill": "independent"}, "legend": {"fill": "independent"}}
    },
    {
      "hconcat": [
        {
          "width": 12, "height": 1,
          "data": {"values": [{"a": 0}]},
          "mark": {"type": "point", "opacity": 0, "size": 1},
          "encoding": {}
        },
        {
          "title": {"text": "C", "anchor": "start", "fontSize": 33, "fontWeight": "bold", "font": "Lato", "color": "#111", "offset": 2, "dx": 5},
          "resolve": {"scale": {"fill": "independent"}, "legend": {"fill": "independent"}},
          "vconcat": [
            {
              "title": {"text": "CON", "anchor": "middle", "fontSize": 18, "fontWeight": "bold", "font": "Lato", "color": "#111", "offset": 9},
              "width": 556, "height": 274,
              "layer": [
                {
                  "data": {"name": "con"},
                  "mark": {"type": "point", "filled": true, "size": 140, "stroke": "#333", "strokeWidth": 1, "opacity": 1},
                  "encoding": {
                    "x": {"field": "t", "type": "quantitative", "scale": {"domain": [0, 300], "nice": false}, "axis": {"values": [0,50,100,150,200,250,300], "title": "Time (s)", "titlePadding": 12}},
                    "y": {"field": "v", "type": "quantitative", "scale": {"domain": [0.7, 1.9], "nice": false, "zero": false}, "axis": {"values": [0.7,0.9,1.1,1.3,1.5,1.7,1.9], "format": ".1f", "title": "V̇O₂ (L.min⁻¹)"}},
                    "fill": {"field": "g", "type": "nominal", "scale": {"domain": ["PRE", "POST"], "range": ["#ffffff", "#999999"]}, "legend": {"title": null, "legendX": 421, "legendY": 119, "rowPadding": 20}}
                  }
                },
                {
                  "data": {"name": "conFit"},
                  "mark": {"type": "line", "color": "#000", "strokeWidth": 6, "strokeCap": "round"},
                  "encoding": {"x": {"field": "t", "type": "quantitative"}, "y": {"field": "v", "type": "quantitative"}, "detail": {"field": "g"}}
                }
              ]
            }
          ]
        }
      ],
      "spacing": 0,
      "bounds": "flush",
      "resolve": {"scale": {"fill": "independent"}, "legend": {"fill": "independent"}}
    }
  ]
}
